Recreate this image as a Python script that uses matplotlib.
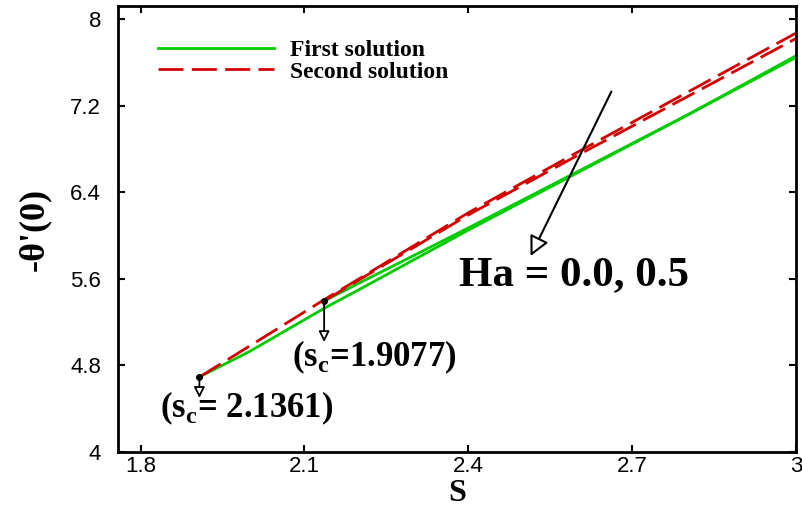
import matplotlib.pyplot as plt
import numpy as np

# Ha = 0.0 branch (turning point near s = 1.908)
s_ha0 = [1.9077, 2.0, 2.137, 2.2, 2.4, 2.6, 2.8, 3.0]
first_ha0 = [4.693, 4.93, 5.33, 5.50, 6.05, 6.58, 7.11, 7.645]
second_ha0 = [4.693, 4.98, 5.41, 5.60, 6.21, 6.77, 7.32, 7.87]

# Ha = 0.5 branch (turning point near s = 2.136)
s_ha05 = [2.1361, 2.2, 2.4, 2.6, 2.8, 3.0]
first_ha05 = [5.395, 5.56, 6.07, 6.59, 7.11, 7.66]
second_ha05 = [5.395, 5.59, 6.19, 6.74, 7.28, 7.82]

xticks = [1.8, 2.1, 2.4, 2.7, 3.0]
xticklabels = ['1.8', '2.1', '2.4', '2.7', '3']
yticks = [4, 4.8, 5.6, 6.4, 7.2, 8]
yticklabels = ['4', '4.8', '5.6', '6.4', '7.2', '8']

serif = 'Liberation Serif'
sans = 'Liberation Sans'
green = '#00cc00'
red = '#d40000'

fig = plt.figure(figsize=(8.02, 5.15), dpi=100)
ax = fig.add_axes([0.147, 0.1223, 0.8455, 0.866])

ax.plot(s_ha0, first_ha0, color=green, lw=2, label='First solution')
ax.plot(s_ha05, first_ha05, color=green, lw=2)
ax.plot(s_ha0, second_ha0, color=red, lw=2, dashes=(9, 3), label='Second solution')
ax.plot(s_ha05, second_ha05, color=red, lw=2, dashes=(9, 3))

# turning points
ax.plot([s_ha0[0], s_ha05[0]], [first_ha0[0], first_ha05[0]], 'o', color='black', ms=4)

arr = dict(arrowstyle='-|>', fc='white', ec='black', lw=1.3, mutation_scale=16,
           shrinkA=0, shrinkB=0)
ax.annotate('', xy=(s_ha05[0], 5.016), xytext=(s_ha05[0], first_ha05[0]), arrowprops=arr)
ax.annotate('', xy=(s_ha0[0], 4.50), xytext=(s_ha0[0], first_ha0[0]), arrowprops=arr)
ax.text(2.2286, 4.875, r'(s$_\mathregular{c}$=1.9077)', fontsize=25, fontweight='bold',
        family=serif, ha='center', va='center')
ax.text(1.9945, 4.40, r'(s$_\mathregular{c}$= 2.1361)', fontsize=25, fontweight='bold',
        family=serif, ha='center', va='center')

big = dict(arrowstyle='-|>', fc='white', ec='black', lw=1.5, mutation_scale=30,
           shrinkA=0, shrinkB=0)
ax.annotate('', xy=(2.514, 5.81), xytext=(2.662, 7.33), arrowprops=big)
ax.text(2.593, 5.635, 'Ha = 0.0, 0.5', fontsize=31, fontweight='bold', family=serif,
        ha='center', va='center')

ax.set_xlim(1.7585, 3.0)
ax.set_ylim(4, 8.12)
ax.set_xticks(xticks)
ax.set_xticklabels(xticklabels, family=sans, fontsize=16)
ax.set_yticks(yticks)
ax.set_yticklabels(yticklabels, family=sans, fontsize=16)
ax.tick_params(direction='in', length=5, width=1.5, top=True, right=True)
ax.tick_params(axis='y', pad=12)
ax.tick_params(axis='x', pad=3)
for sp in ax.spines.values():
    sp.set_linewidth(2)

ax.set_xlabel('S', fontsize=23, fontweight='bold', family=serif, labelpad=1)
ax.set_ylabel("-θ'(0)", fontsize=26, fontweight='bold', family=serif, labelpad=14)

leg = ax.legend(loc='upper left', bbox_to_anchor=(0.059, 0.925), frameon=False,
                handlelength=4.9, handletextpad=0.7, labelspacing=0.0,
                borderpad=0, borderaxespad=0,
                prop={'family': serif, 'weight': 'bold', 'size': 17})

fig.savefig('out.png', dpi=100)
